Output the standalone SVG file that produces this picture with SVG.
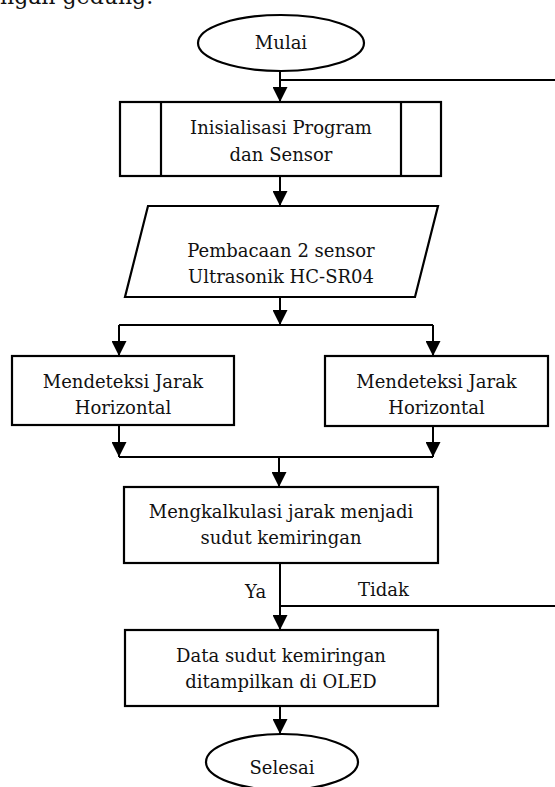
<svg xmlns="http://www.w3.org/2000/svg" width="555" height="787" viewBox="0 0 555 787">
<style>
text{font-family:"DejaVu Serif","Liberation Serif",serif;font-size:18px;fill:#111;text-anchor:middle}
.shape{fill:#fff;stroke:#000;stroke-width:2.2}
.con{fill:none;stroke:#000;stroke-width:2}
.arr{marker-end:url(#ah)}
</style>
<defs>
<marker id="ah" markerUnits="userSpaceOnUse" markerWidth="15" markerHeight="15" viewBox="0 0 14 14" refX="14" refY="7" orient="auto">
<path d="M0,0 L14,7 L0,14 z" fill="#000"/>
</marker>
</defs>
<rect width="555" height="787" fill="#fff"/>
<text x="0" y="4" style="font-size:22px;text-anchor:start">ngan gedung.</text>

<g id="connectors">
<line class="con arr" x1="280" y1="71" x2="280" y2="102"/>
<line class="con" x1="280" y1="80" x2="555" y2="80"/>
<line class="con arr" x1="280" y1="176" x2="280" y2="206"/>
<line class="con arr" x1="280" y1="297" x2="280" y2="325"/>
<line class="con" x1="119" y1="325" x2="433" y2="325"/>
<line class="con arr" x1="119" y1="325" x2="119" y2="356"/>
<line class="con arr" x1="433" y1="325" x2="433" y2="356"/>
<line class="con arr" x1="119" y1="425" x2="119" y2="457"/>
<line class="con arr" x1="433" y1="426" x2="433" y2="457"/>
<line class="con" x1="119" y1="457" x2="433" y2="457"/>
<line class="con arr" x1="279" y1="457" x2="279" y2="487"/>
<line class="con arr" x1="280" y1="563" x2="280" y2="630"/>
<line class="con" x1="281" y1="606" x2="555" y2="606"/>
<line class="con arr" x1="280" y1="706" x2="280" y2="734"/>
<text x="245" y="598" style="text-anchor:start">Ya</text>
<text x="358" y="596" style="text-anchor:start">Tidak</text>
</g>

<g id="mulai">
<ellipse class="shape" cx="281" cy="43" rx="83" ry="28"/>
<text x="281" y="49">Mulai</text>
</g>

<g id="inisialisasi">
<rect class="shape" x="120" y="102" width="321" height="74"/>
<line class="con" x1="161" y1="102" x2="161" y2="176" style="stroke-width:2.2"/>
<line class="con" x1="401" y1="102" x2="401" y2="176" style="stroke-width:2.2"/>
<text x="281" y="134">Inisialisasi Program</text>
<text x="281" y="161">dan Sensor</text>
</g>

<g id="pembacaan">
<polygon class="shape" points="148,206 438,206 415,297 125,297"/>
<text x="281" y="257">Pembacaan 2 sensor</text>
<text x="281" y="283">Ultrasonik HC-SR04</text>
</g>

<g id="deteksi-kiri">
<rect class="shape" x="12" y="356" width="222" height="69"/>
<text x="123" y="388">Mendeteksi Jarak</text>
<text x="123" y="414">Horizontal</text>
</g>

<g id="deteksi-kanan">
<rect class="shape" x="325" y="356" width="223" height="70"/>
<text x="436.5" y="388">Mendeteksi Jarak</text>
<text x="436.5" y="414">Horizontal</text>
</g>

<g id="kalkulasi">
<rect class="shape" x="124" y="487" width="314" height="76"/>
<text x="281" y="518">Mengkalkulasi jarak menjadi</text>
<text x="281" y="544">sudut kemiringan</text>
</g>

<g id="tampil">
<rect class="shape" x="125" y="630" width="313" height="76"/>
<text x="281" y="662">Data sudut kemiringan</text>
<text x="281" y="688">ditampilkan di OLED</text>
</g>

<g id="selesai">
<ellipse class="shape" cx="282" cy="762" rx="76" ry="28"/>
<text x="282" y="774">Selesai</text>
</g>
</svg>
